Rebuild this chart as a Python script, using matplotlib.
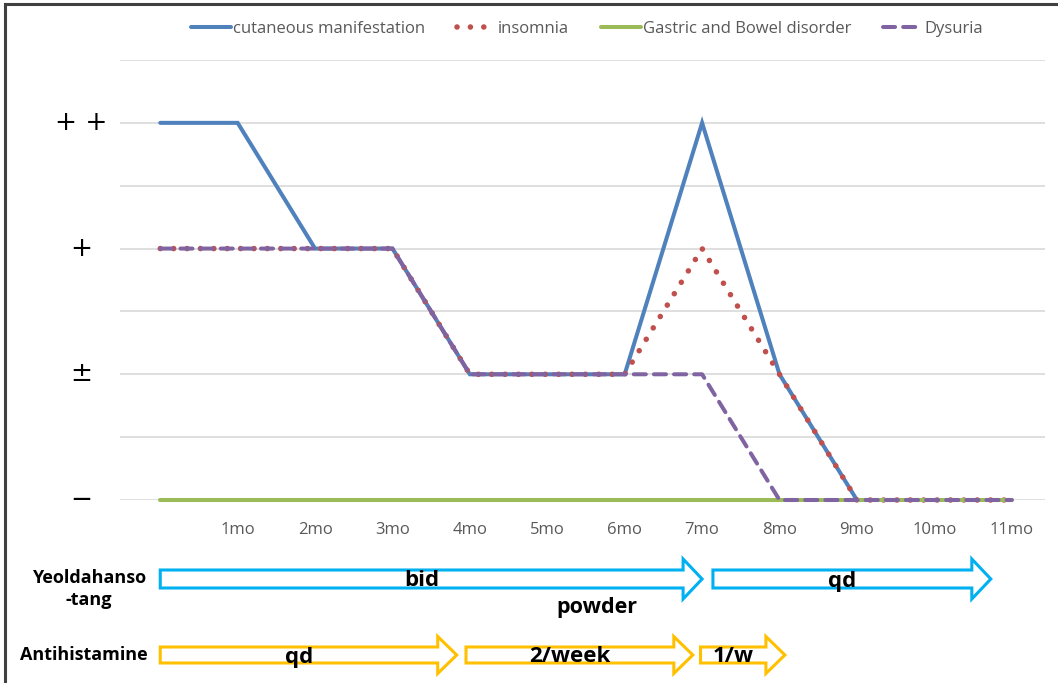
import numpy as np
import matplotlib
matplotlib.use("Agg")
import matplotlib.pyplot as plt
from matplotlib.patches import FancyArrow
from matplotlib.lines import Line2D
from matplotlib.transforms import blended_transform_factory

plt.rcParams['font.family'] = ['Open Sans', 'DejaVu Sans']

# symptom severity: 0 = -, 1 = ±, 2 = +, 3 = ++
months = list(range(12))
month_labels = ['1mo', '2mo', '3mo', '4mo', '5mo', '6mo', '7mo', '8mo', '9mo', '10mo', '11mo']
cutaneous = [3, 3, 2, 2, 1, 1, 1, 3, 1, 0, 0, 0]
insomnia = [2, 2, 2, 2, 1, 1, 1, 2, 1, 0, 0, 0]
gastric = [0, 0, 0, 0, 0, 0, 0, 0, 0, 0, 0, 0]
dysuria = [2, 2, 2, 2, 1, 1, 1, 1, 0, 0, 0, 0]
severity_labels = ['\u2212', '\u00b1', '+', '+ +']

# treatment periods (months)
yeol_start = [0, 7.14]
yeol_end = [7.0, 10.73]
yeol_labels = ['bid', 'qd']
anti_start = [0, 3.95, 6.98]
anti_end = [3.83, 6.88, 8.07]
anti_labels = ['qd', '2/week', '1/w']

W, H = 1058, 683
fig = plt.figure(figsize=(W / 100, H / 100), dpi=100)
left, width = 120 / W, 925 / W
ax = fig.add_axes([left, (H - 500) / H, width, 440 / H])
xlim = (-0.52, 11.43)
ax.set_xlim(*xlim)
ax.set_ylim(0, 3.5)

ax.set_yticks(np.arange(0, 3.51, 0.5))
ax.set_yticklabels([])
ax.grid(axis='y', color='#d9d9d9', lw=1.2)
ax.set_axisbelow(True)
ax.tick_params(length=0)
for s in ax.spines.values():
    s.set_visible(False)

ax.set_xticks(months[1:])
ax.set_xticklabels(month_labels, color='#595959', fontsize=12)
ax.tick_params(axis='x', pad=16)

lw = 2.9
ax.plot(months, cutaneous, color='#4f81bd', lw=lw, solid_capstyle='round',
        solid_joinstyle='miter', label='cutaneous manifestation', clip_on=False)
ax.plot(months, insomnia, color='#c0504d', lw=4.0, ls=(0, (0.01, 2.4)),
        dash_capstyle='round', label='insomnia', clip_on=False)
ax.plot(months, gastric, color='#9bbb59', lw=lw, solid_capstyle='round',
        label='Gastric and Bowel disorder', clip_on=False)
ax.plot(months, dysuria, color='#8064a2', lw=lw, ls=(0, (3, 2)),
        dash_capstyle='round', label='Dysuria', clip_on=False)

# severity labels on the left
tr = blended_transform_factory(fig.transFigure, ax.transData)
for i, lab in enumerate(severity_labels):
    ax.text(81 / W, i, lab, transform=tr, ha='center', va='center',
            fontsize=19, color='black', family=['DejaVu Sans'])

handles, labels = ax.get_legend_handles_labels()
fig.legend(handles, labels, loc='center', bbox_to_anchor=(587 / W, 1 - 29 / H),
           ncol=4, frameon=False, fontsize=12, labelcolor='#595959',
           handlelength=2.4, handletextpad=0.1, columnspacing=1.9)

# treatment arrows
aax = fig.add_axes([left, 0, width, 1])
aax.set_xlim(*xlim)
aax.set_ylim(H, 0)
aax.axis('off')

px = (xlim[1] - xlim[0]) / 925.0
row_y = [579, 655]
rows = [(yeol_start, yeol_end, yeol_labels, '#00b0f0', 18, 40),
        (anti_start, anti_end, anti_labels, '#ffc000', 16, 37)]
for (starts, ends, labs, col, sw, hw), y in zip(rows, row_y):
    for s, e, lab in zip(starts, ends, labs):
        hl = 19 * px
        arr = FancyArrow(s, y, e - s, 0, width=sw, head_width=hw, head_length=hl,
                         length_includes_head=True, fc='white', ec=col, lw=2.2)
        aax.add_patch(arr)
        aax.text((s + e - hl) / 2, y + 2, lab, ha='center', va='center',
                 fontsize=16, fontweight='bold', color='black')

aax.text(5.64, 608, 'powder', ha='center', va='center', fontsize=15.5,
         fontweight='bold', color='black')

fig.text(89 / W, 1 - 589 / H, 'Yeoldahanso\n-tang', ha='center', va='center',
         fontsize=13, fontweight='bold', linespacing=1.25)
fig.text(84 / W, 1 - 655 / H, 'Antihistamine', ha='center', va='center',
         fontsize=13, fontweight='bold')

# frame edges
fig.add_artist(Line2D([5 / W, 5 / W], [0, 1 - 4 / H], color='#404040', lw=2.2))
fig.add_artist(Line2D([5 / W, 1], [1 - 4 / H, 1 - 4 / H], color='#404040', lw=2.2))

fig.savefig('out.png', dpi=100)
